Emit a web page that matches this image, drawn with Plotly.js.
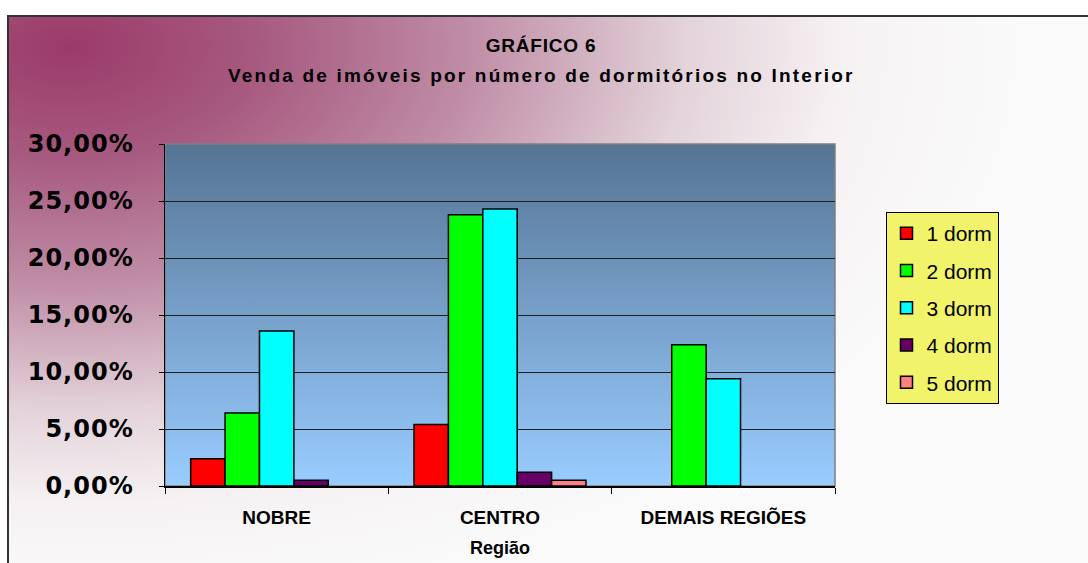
<!DOCTYPE html>
<html>
<head>
<meta charset="utf-8">
<script src="https://cdn.plot.ly/plotly-3.0.1.min.js"></script>
<style>
  html, body { margin: 0; padding: 0; background: #ffffff; overflow: hidden; }
  #frame {
    position: absolute; left: 7px; top: 15px; width: 1200px; height: 700px;
    border-left: 2px solid #333; border-top: 2px solid #333;
    background: radial-gradient(ellipse 950px 560px at 60px 30px,
      #9b3a69 0%, #a75a80 20%, #bf8ca5 42%, #e3d3da 65%, #f6f2f4 82%, #fafafa 100%);
  }
  #chart { position: absolute; left: 0; top: 0; width: 1088px; height: 563px; }
  .gtitle { letter-spacing: 0.8px; }
  .annotation-text { letter-spacing: 2.2px; }
  .ytick text { letter-spacing: 1px; }
</style>
</head>
<body>
<div id="frame"></div>
<div id="chart"></div>
<script>
// ---- data ----
const categories = ['NOBRE', 'CENTRO', 'DEMAIS REGIÕES'];
const seriesNames = ['1 dorm', '2 dorm', '3 dorm', '4 dorm', '5 dorm'];
const dorm1 = [0.024, 0.054, null];
const dorm2 = [0.064, 0.238, 0.124];
const dorm3 = [0.136, 0.243, 0.094];
const dorm4 = [0.005, 0.012, null];
const dorm5 = [null, 0.005, null];
const seriesColors = ['#ff0000', '#00ff00', '#00ffff', '#660066', '#ff8080'];
const yTickVals = [0, 0.05, 0.10, 0.15, 0.20, 0.25, 0.30];
const titleMain = 'GRÁFICO 6';
const titleSub = 'Venda de imóveis por número de dormitórios no Interior';
const xTitle = 'Região';

const allSeries = [dorm1, dorm2, dorm3, dorm4, dorm5];
const traces = allSeries.map((vals, i) => ({
  type: 'bar',
  name: seriesNames[i],
  x: categories,
  y: vals,
  legendgroup: 'g' + i,
  marker: { color: seriesColors[i], line: { color: '#000000', width: 1.5 } },
  hoverinfo: 'skip'
}));

const plotBg = 'data:image/svg+xml;utf8,' + encodeURIComponent(
  '<svg xmlns="http://www.w3.org/2000/svg" width="100" height="100" preserveAspectRatio="none">' +
  '<defs><linearGradient id="g" x1="0" y1="0" x2="0" y2="1">' +
  '<stop offset="0" stop-color="#557494"/><stop offset="1" stop-color="#99ccff"/>' +
  '</linearGradient></defs><rect width="100" height="100" fill="url(#g)"/></svg>');

const layout = {
  width: 1088, height: 563,
  margin: { l: 165, r: 253, t: 144, b: 77, pad: 0 },
  paper_bgcolor: 'rgba(0,0,0,0)',
  plot_bgcolor: 'rgba(0,0,0,0)',
  separators: ',.',
  barmode: 'group',
  bargap: 0.23,
  bargroupgap: 0,
  showlegend: true,
  title: {
    text: titleMain,
    x: 541 / 1088, xref: 'container', xanchor: 'center',
    y: 1 - 45 / 563, yref: 'container', yanchor: 'middle',
    font: { family: 'Liberation Sans, Arial, sans-serif', size: 19, weight: 'bold', color: '#000' }
  },
  annotations: [{
    text: titleSub, showarrow: false,
    xref: 'paper', yref: 'paper',
    x: (541 - 165) / 670, y: (486 - 75) / 342,
    xanchor: 'center', yanchor: 'middle',
    font: { family: 'Liberation Sans, Arial, sans-serif', size: 19, weight: 'bold', color: '#000' }
  }],
  images: [{
    source: plotBg, xref: 'paper', yref: 'paper',
    x: 0, y: 1, sizex: 1, sizey: 1, xanchor: 'left', yanchor: 'top',
    sizing: 'stretch', layer: 'below'
  }],
  shapes: [{
    type: 'rect', xref: 'paper', yref: 'paper', x0: 0, x1: 1, y0: 0, y1: 1,
    line: { color: '#808080', width: 1.5 }, fillcolor: 'rgba(0,0,0,0)', layer: 'between'
  }],
  xaxis: {
    type: 'category',
    showline: true, linecolor: '#000', linewidth: 1.5,
    ticks: 'outside', tickson: 'boundaries', ticklen: 6, tickcolor: '#000', tickwidth: 1,
    showgrid: false, zeroline: false,
    ticklabelstandoff: 14,
    tickfont: { family: 'Liberation Sans, Arial, sans-serif', size: 19, weight: 'bold', color: '#000' },
    title: {
      text: xTitle, standoff: 14,
      font: { family: 'Liberation Sans, Arial, sans-serif', size: 18, weight: 'bold', color: '#000' }
    }
  },
  yaxis: {
    range: [0, 0.30], tickvals: yTickVals, tickformat: '.2%',
    showline: true, linecolor: '#000', linewidth: 1.5,
    ticks: 'outside', ticklen: 5, tickcolor: '#000', tickwidth: 1,
    showgrid: true, gridcolor: '#1e1e1e', gridwidth: 1,
    zeroline: false,
    ticklabelstandoff: 20,
    tickfont: { family: 'DejaVu Sans, sans-serif', size: 24, weight: 'bold', color: '#000' }
  },
  legend: {
    x: (942 - 165) / 670, xanchor: 'center',
    y: (486 - 308) / 342, yanchor: 'middle',
    bgcolor: '#f1f36b', bordercolor: '#000', borderwidth: 1,
    traceorder: 'grouped', tracegroupgap: 7,
    font: { family: 'Liberation Sans, Arial, sans-serif', size: 21, color: '#000' }
  }
};

Plotly.newPlot('chart', traces, layout, { displayModeBar: false, staticPlot: true });
</script>
</body>
</html>
